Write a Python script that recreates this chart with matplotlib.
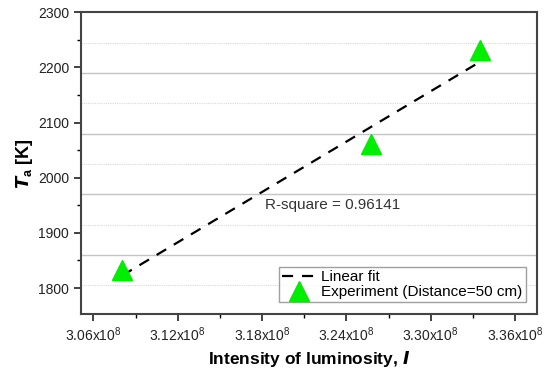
import numpy as np
import matplotlib
matplotlib.use("Agg")
import matplotlib.pyplot as plt
from matplotlib.ticker import MultipleLocator, FuncFormatter

plt.rcParams["font.family"] = ["Liberation Sans", "DejaVu Sans"]
plt.rcParams["mathtext.fontset"] = "custom"
plt.rcParams["mathtext.rm"] = "Liberation Sans"
plt.rcParams["mathtext.it"] = "Liberation Sans:italic"
plt.rcParams["mathtext.bf"] = "Liberation Sans:bold"

# measured data (intensity in units of 1e8)
intensity = [3.0806, 3.2574, 3.3352]
temperature = [1832, 2062, 2231]
r_square_text = "R-square = 0.96141"

x_ticks = [3.06, 3.12, 3.18, 3.24, 3.30, 3.36]
y_ticks = [1800, 1900, 2000, 2100, 2200, 2300]

slope, intercept = np.polyfit(intensity, temperature, 1)
x_fit = np.array([min(intensity), max(intensity)])
y_fit = slope * x_fit + intercept

fig, ax = plt.subplots(figsize=(5.47, 3.69), dpi=100)
fig.subplots_adjust(left=0.148, right=0.982, top=0.967, bottom=0.149)

# Origin-style grid, offset from the ticks
for g in np.arange(1860, 2300, 110):
    ax.axhline(g, color="#c4c4c4", lw=1.0, zorder=0)
for g in np.arange(1805, 2300, 110):
    ax.axhline(g, color="#d8d8d8", lw=0.8, ls=(0, (1, 1)), zorder=0)

ax.plot(x_fit, y_fit, color="black", ls=(0, (5, 4)), lw=1.6, label="Linear fit", zorder=2)
ax.plot(intensity, temperature, ls="none", marker="^", ms=15, color="#00ee00",
        label="Experiment (Distance=50 cm)", zorder=3)

ax.text(3.182, 1950, r_square_text, fontsize=11, color="#333333", ha="left", va="center")

ax.set_xlim(3.0512, 3.3757)
ax.set_ylim(1753, 2300)
ax.set_xticks(x_ticks)
ax.set_yticks(y_ticks)
ax.xaxis.set_minor_locator(MultipleLocator(0.03))
ax.yaxis.set_minor_locator(MultipleLocator(50))
ax.xaxis.set_major_formatter(FuncFormatter(lambda v, p: f"{v:.2f}x10$^{{8}}$"))

ax.tick_params(which="major", direction="out", length=5, width=1.2, labelsize=10, colors="#222222",
               top=False, right=False)
ax.tick_params(which="minor", direction="out", length=3, width=1.0, top=False, right=False)
for s in ax.spines.values():
    s.set_color("#444444")
    s.set_linewidth(1.5)

ax.set_xlabel(r"Intensity of luminosity, $\mathbfit{I}$", fontsize=12.5, fontweight="bold", labelpad=3)
ax.set_ylabel(r"$\mathbfit{T}_{\mathbf{a}}$ [K]", fontsize=13, fontweight="bold", labelpad=2)

leg = ax.legend(loc="lower right", bbox_to_anchor=(0.975, 0.04), fontsize=11, frameon=True,
                fancybox=False, edgecolor="#888888", borderpad=0.2, handlelength=2.3,
                handletextpad=0.3, labelspacing=0.05, borderaxespad=0)
leg.get_frame().set_linewidth(1.0)

fig.savefig("out.png", dpi=100)
